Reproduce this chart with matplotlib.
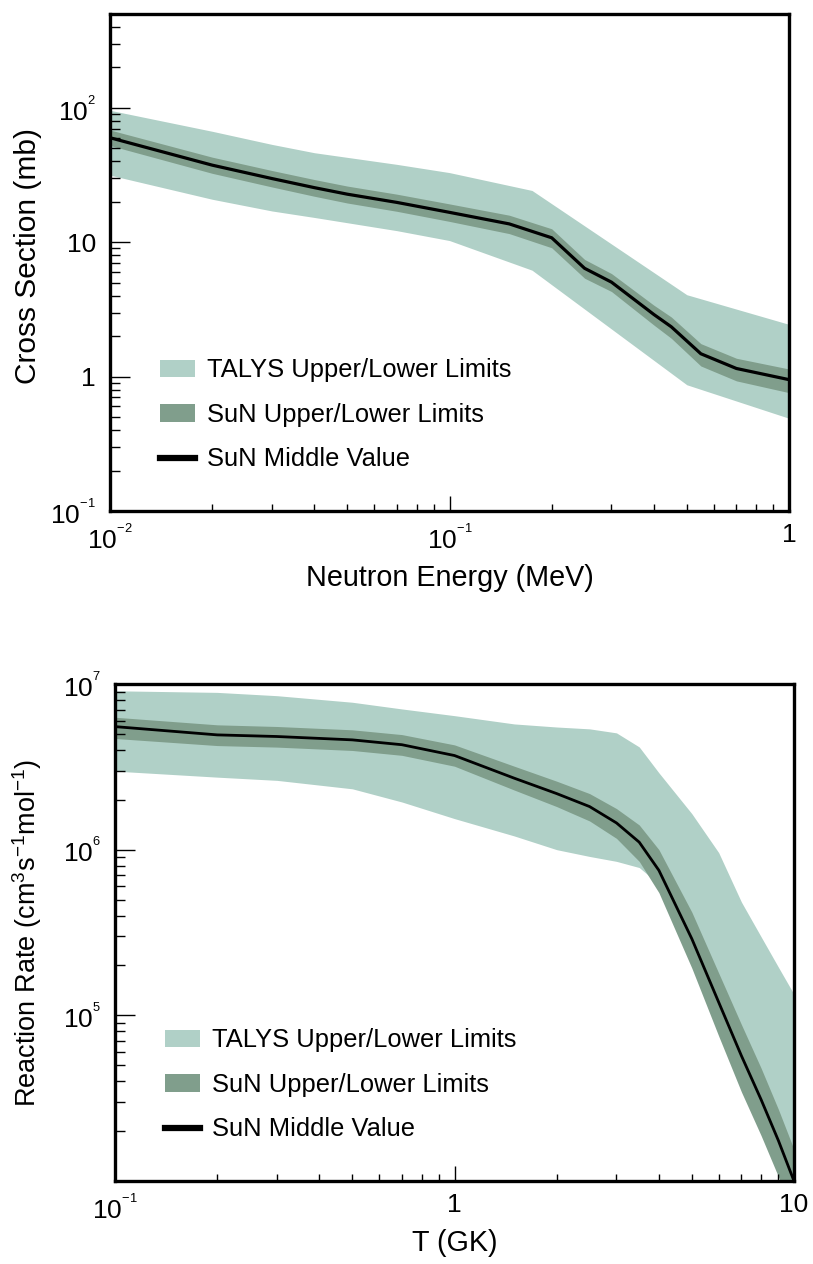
import matplotlib
matplotlib.use("Agg")
import matplotlib.pyplot as plt
from matplotlib.patches import Patch
from matplotlib.lines import Line2D
from matplotlib.ticker import FixedLocator, FixedFormatter, LogLocator, NullFormatter

plt.rcParams['font.family'] = ['Liberation Sans', 'DejaVu Sans']
plt.rcParams['mathtext.fontset'] = 'custom'
plt.rcParams['mathtext.rm'] = 'Liberation Sans'
plt.rcParams['mathtext.it'] = 'Liberation Sans:italic'

# ---- Cross section vs neutron energy ----
E_TALYS = [0.01, 0.02, 0.03, 0.04, 0.07, 0.1, 0.175, 0.5, 1.0]
XS_TALYS_HI = [96, 67, 53.5, 46.4, 38, 33, 24.3, 4.07, 2.45]
XS_TALYS_LO = [31.6, 20.9, 17.1, 15.3, 12.2, 10.3, 6.2, 0.87, 0.49]

E_SUN = [0.01, 0.02, 0.03, 0.04, 0.05, 0.07, 0.1, 0.15, 0.2, 0.25, 0.3, 0.4, 0.45, 0.55, 0.7, 1.0]
XS_SUN_MID = [60, 37.5, 29.8, 25.5, 22.8, 19.8, 16.7, 13.7, 10.8, 6.4, 5.05, 2.9, 2.35, 1.48, 1.15, 0.95]
XS_SUN_HI = [68.5, 43.0, 34.2, 29.3, 26.2, 22.8, 19.3, 15.9, 12.6, 7.45, 5.85, 3.4, 2.78, 1.76, 1.37, 1.14]
XS_SUN_LO = [52.5, 32.6, 25.8, 22.0, 19.6, 17.0, 14.3, 11.6, 9.1, 5.4, 4.3, 2.42, 1.93, 1.2, 0.93, 0.76]

# ---- Reaction rate vs temperature ----
T_GK = [0.1, 0.2, 0.3, 0.5, 0.7, 1.0, 1.5, 2.0, 2.5, 3.0, 3.5, 4.0, 5.0, 6.0, 7.0, 8.0, 9.0, 10.0]
RATE_TALYS_HI = [9.1e6, 8.9e6, 8.5e6, 7.76e6, 7.07e6, 6.44e6, 5.74e6, 5.5e6, 5.36e6, 5.07e6,
                 4.17e6, 2.91e6, 1.65e6, 9.6e5, 4.83e5, 2.98e5, 1.95e5, 1.34e5]
RATE_TALYS_LO = [2.98e6, 2.74e6, 2.62e6, 2.33e6, 1.94e6, 1.54e6, 1.21e6, 1.0e6, 9.1e5, 8.5e5,
                 7.8e5, 6.2e5, 2.4e5, 1.0e5, 4.7e4, 2.6e4, 1.45e4, 8.3e3]
RATE_SUN_MID = [5.53e6, 4.93e6, 4.82e6, 4.6e6, 4.3e6, 3.7e6, 2.7e6, 2.18e6, 1.82e6, 1.45e6,
                1.11e6, 7.5e5, 2.9e5, 1.2e5, 5.7e4, 3.1e4, 1.75e4, 1.0e4]
RATE_SUN_HI = [6.3e6, 5.67e6, 5.54e6, 5.29e6, 4.95e6, 4.29e6, 3.19e6, 2.59e6, 2.18e6, 1.77e6,
               1.41e6, 1.0e6, 4.2e5, 1.8e5, 8.8e4, 4.8e4, 2.7e4, 1.55e4]
RATE_SUN_LO = [4.69e6, 4.25e6, 4.16e6, 3.97e6, 3.71e6, 3.19e6, 2.29e6, 1.82e6, 1.49e6, 1.17e6,
               8.5e5, 5.5e5, 1.93e5, 7.5e4, 3.45e4, 1.88e4, 1.06e4, 6.1e3]

LEGEND_LABELS = ["TALYS Upper/Lower Limits", "SuN Upper/Lower Limits", "SuN Middle Value"]

LIGHT = "#b0d0c7"
DARK = "#809e8c"
FS_XLABEL = 20.7
FS_YLABEL = 21.5
FS_YLABEL_RATE = 19.5
FS_LEGEND = 18.4
FS_TICK = 19


def pow10(e):
    # small raised exponent on the decade labels
    return r'$\mathregular{10^{{}^{%s}}}$' % e


fig = plt.figure(figsize=(8.13, 12.64), dpi=100)
ax1 = fig.add_axes([110 / 813, 1 - 511 / 1264, 679 / 813, 497 / 1264])
ax2 = fig.add_axes([115 / 813, 1 - 1181 / 1264, 679 / 813, 497 / 1264])


def style(ax, xticks, xlabels, yticks, ylabels):
    ax.set_xscale('log')
    ax.set_yscale('log')
    for s in ax.spines.values():
        s.set_linewidth(2.4)
    ax.xaxis.set_major_locator(FixedLocator(xticks))
    ax.xaxis.set_major_formatter(FixedFormatter(xlabels))
    ax.yaxis.set_major_locator(FixedLocator(yticks))
    ax.yaxis.set_major_formatter(FixedFormatter(ylabels))
    ax.xaxis.set_minor_locator(LogLocator(base=10, subs=range(2, 10), numticks=20))
    ax.yaxis.set_minor_locator(LogLocator(base=10, subs=range(2, 10), numticks=20))
    ax.xaxis.set_minor_formatter(NullFormatter())
    ax.yaxis.set_minor_formatter(NullFormatter())
    ax.tick_params(which='both', direction='in', top=False, right=False,
                   labelsize=FS_TICK, width=1.0, color='black')
    ax.tick_params(axis='y', which='major', length=14.5, pad=10)
    ax.tick_params(axis='y', which='minor', length=7.2)
    ax.tick_params(axis='x', which='major', length=10.5, pad=9)
    ax.tick_params(axis='x', which='minor', length=4.8)


def legend(ax):
    handles = [Patch(facecolor=LIGHT, edgecolor='none'),
               Patch(facecolor=DARK, edgecolor='none'),
               Line2D([0], [0], color='black', lw=4.5)]
    ax.legend(handles, LEGEND_LABELS, loc='upper left', bbox_to_anchor=(0.073, 0.307),
              frameon=False, fontsize=FS_LEGEND, handlelength=1.37, handleheight=0.66,
              handletextpad=0.5, labelspacing=0.8, borderpad=0, borderaxespad=0)


# Top: cross section
ax1.fill_between(E_TALYS, XS_TALYS_LO, XS_TALYS_HI, color=LIGHT, lw=0)
ax1.fill_between(E_SUN, XS_SUN_LO, XS_SUN_HI, color=DARK, lw=0)
ax1.plot(E_SUN, XS_SUN_MID, color='black', lw=2.3)
ax1.set_xlim(0.01, 1.0)
ax1.set_ylim(0.1, 500)
style(ax1, [0.01, 0.1, 1.0],
      [pow10('-2'), pow10('-1'), '1'],
      [0.1, 1, 10, 100],
      [pow10('-1'), '1', '10', pow10('2')])
ax1.set_xlabel('Neutron Energy (MeV)', fontsize=FS_XLABEL, labelpad=8)
ax1.set_ylabel('Cross Section (mb)', fontsize=FS_YLABEL)
ax1.yaxis.set_label_coords(-0.0996, 0.513)
legend(ax1)

# Bottom: reaction rate
ax2.fill_between(T_GK, RATE_TALYS_LO, RATE_TALYS_HI, color=LIGHT, lw=0)
ax2.fill_between(T_GK, RATE_SUN_LO, RATE_SUN_HI, color=DARK, lw=0)
ax2.plot(T_GK, RATE_SUN_MID, color='black', lw=2.0)
ax2.set_xlim(0.1, 10)
ax2.set_ylim(1e4, 1e7)
style(ax2, [0.1, 1, 10],
      [pow10('-1'), '1', '10'],
      [1e5, 1e6, 1e7],
      [pow10('5'), pow10('6'), pow10('7')])
ax2.set_xlabel('T (GK)', fontsize=FS_XLABEL, labelpad=4)
ax2.set_ylabel(r'Reaction Rate (cm$\mathregular{^{3}}$s$\mathregular{^{-1}}$mol$\mathregular{^{-1}}$)',
               fontsize=FS_YLABEL_RATE)
ax2.yaxis.set_label_coords(-0.104, 0.5)
legend(ax2)

fig.savefig('out.png', dpi=100)
